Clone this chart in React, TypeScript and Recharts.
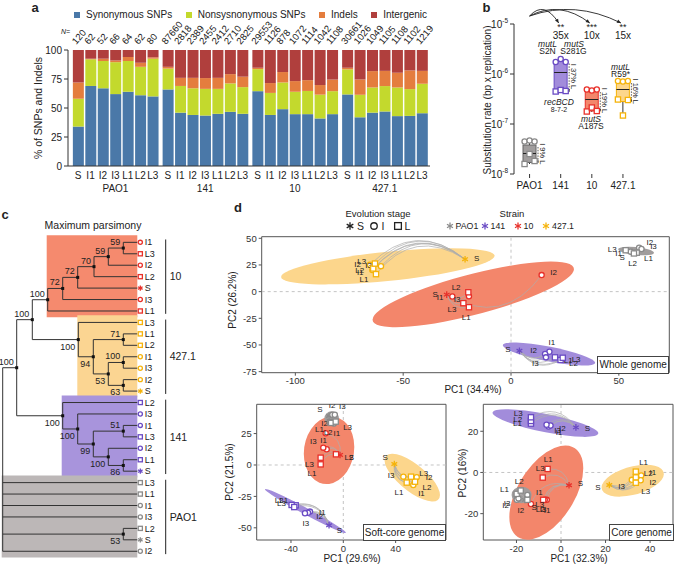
import React from 'react';
import {
  BarChart, Bar, XAxis, YAxis, LabelList, ComposedChart, Scatter, ReferenceLine, ReferenceArea,
} from 'recharts';

const FONT = '"Liberation Sans", Arial, Helvetica, sans-serif';
const INK = '#222';

// ---------- panel a: mutation classes ----------
const strains = ['PAO1', '141', '10', '427.1'];
const stages = ['S', 'I1', 'I2', 'I3', 'L1', 'L2', 'L3'];
const synonymous = [34, 69, 67, 62, 64, 61, 60, 66, 46, 44, 43.5, 45, 46.7, 45, 64.5, 44, 49, 44.7, 44.7, 41, 44.7, 61.7, 42, 46, 47, 43, 43.2, 45.5];
const nonsynonymous = [24, 23, 23.5, 27.5, 26.5, 24.5, 32.5, 18, 23, 23, 23, 21.5, 24.5, 23, 19, 19, 23, 19.3, 20, 20.5, 19.8, 21.6, 19.4, 21.7, 21.9, 24.7, 23.1, 25.4];
const indels = [14, 0.5, 2, 1.5, 3.5, 3.5, 1.2, 1.5, 7, 9, 9.3, 9.5, 8, 9, 1.2, 8.5, 9, 9.2, 9.3, 8.3, 10, 1.4, 13.2, 14.1, 13.1, 12.7, 16.1, 11.1];
const intergenic = [28, 7.5, 7.5, 9, 6, 11, 6.3, 14.5, 24, 24, 24.2, 24, 20.8, 23, 15.3, 28.5, 19, 26.8, 26, 30.2, 25.5, 15.3, 25.4, 18.2, 18, 19.6, 17.6, 18];
const mutationCounts = [120, 62, 52, 66, 64, 62, 80, 87660, 2818, 2389, 2455, 2412, 2710, 2825, 29553, 1126, 878, 1072, 1114, 1042, 1108, 30661, 1026, 1049, 1105, 1108, 1102, 1219];
const classNames = ['Synonymous SNPs', 'Nonsysnonymous SNPs', 'Indels', 'Intergenic'];
const classKeys = ['syn', 'non', 'ind', 'inter'];
const classColors = ['#4a78a8', '#c3d92d', '#e47d3e', '#b03f3d'];
const GROUP_GAP = 0.21;

const barRows = strains.flatMap((s, g) => stages.map((st, k) => {
  const i = g * 7 + k;
  return {
    pos: i + g * GROUP_GAP, strain: s, stage: st,
    syn: synonymous[i], non: nonsynonymous[i], ind: indels[i], inter: intergenic[i], n: mutationCounts[i],
  };
}));

// ---------- panel b: substitution rates (log10) ----------
const rateStrains = ['PAO1', '141', '10', '427.1'];
const rateMin = [-7.8, -6.36, -6.76, -6.83];
const rateQ1 = [-7.77, -6.35, -6.74, -6.55];
const rateMedian = [-7.59, -5.97, -6.51, -6.31];
const rateQ3 = [-7.42, -5.75, -6.32, -6.14];
const rateMax = [-7.33, -5.7, -6.31, -6.13];
const lossPct = [9, 37, 19, 16];
const foldChange = ['', '35x', '10x', '15x'];
const significance = ['', '**', '***', '**'];
const rateI = [[-7.35, -7.33, -7.35], [-5.76, -5.7, -5.76], [-6.31, -6.33, -6.31], [-6.14, -6.15, -6.14]];
const rateL = [[-7.8, -7.6, -7.74], [-6.35, -6.32, -6.34], [-6.75, -6.67, -6.74], [-6.51, -6.83, -6.52]];

const rateRows = rateStrains.map((s, k) => ({
  k, strain: s, box: [rateQ1[k], rateQ3[k]], lo: rateMin[k], med: rateMedian[k], hi: rateMax[k], pct: lossPct[k],
}));
const ratePoints = rateStrains.flatMap((s, k) => [
  ...rateI[k].map((v, j) => ({ k, strain: s, stage: 'I', rep: j + 1, rate: v })),
  ...rateL[k].map((v, j) => ({ k, strain: s, stage: 'L', rep: j + 1, rate: v })),
]);
const arcRows = rateStrains.map((s, k) => ({ k, strain: s, rate: -5, fold: foldChange[k], sig: significance[k] }));

// ---------- panel c: maximum parsimony tree ----------
const treeLeaves = [
  ['10', 'I1'], ['10', 'L3'], ['10', 'I2'], ['10', 'L2'], ['10', 'S'], ['10', 'I3'], ['10', 'L1'],
  ['427.1', 'L3'], ['427.1', 'L1'], ['427.1', 'L2'], ['427.1', 'I1'], ['427.1', 'I3'], ['427.1', 'I2'], ['427.1', 'S'],
  ['141', 'L2'], ['141', 'I3'], ['141', 'I1'], ['141', 'L3'], ['141', 'I2'], ['141', 'L1'], ['141', 'S'],
  ['PAO1', 'L3'], ['PAO1', 'L1'], ['PAO1', 'I1'], ['PAO1', 'I3'], ['PAO1', 'L2'], ['PAO1', 'S'], ['PAO1', 'I2'],
];
const treeNodes: any[] = [
  { id: 'root', x: 2.7, kids: ['nA', 21, 22, 23, 24, 'np', 27] },
  { id: 'nA', x: 16.7, boot: 100, kids: ['nB', 'n1a'] },
  { id: 'nB', x: 32.3, boot: 100, kids: ['n10f', 'n4a'] },
  { id: 'n10f', x: 47.7, boot: 100, kids: ['n10e', 6] },
  { id: 'n10e', x: 62.7, boot: 72, kids: ['n10d', 5] },
  { id: 'n10d', x: 77.7, boot: 72, kids: ['n10c', 4] },
  { id: 'n10c', x: 94, boot: 70, kids: ['n10b', 3] },
  { id: 'n10b', x: 108.3, boot: 59, kids: ['n10a', 2] },
  { id: 'n10a', x: 123.3, boot: 59, kids: [0, 1] },
  { id: 'n4a', x: 78.3, boot: 100, kids: [7, 'n4b'] },
  { id: 'n4b', x: 93.3, boot: 94, kids: ['n4c', 'n4d'] },
  { id: 'n4c', x: 123.3, boot: 71, kids: [8, 9] },
  { id: 'n4d', x: 108.3, boot: 53, kids: ['n4e', 'n4f'] },
  { id: 'n4e', x: 123.3, boot: 100, kids: [10, 11] },
  { id: 'n4f', x: 123.3, boot: 63, kids: [12, 13] },
  { id: 'n1a', x: 62.7, boot: 100, kids: [14, 'n1b'] },
  { id: 'n1b', x: 77.7, boot: 100, kids: [15, 'n1c'] },
  { id: 'n1c', x: 93.3, boot: 99, kids: ['n1d', 'n1e'] },
  { id: 'n1d', x: 123.3, boot: 51, kids: [16, 17] },
  { id: 'n1e', x: 108.3, boot: 100, kids: [18, 'n1f'] },
  { id: 'n1f', x: 123.3, boot: 86, kids: [19, 20] },
  { id: 'np', x: 123.3, boot: 53, kids: [25, 26] },
];
const clades = [
  { strain: '10', node: 'n10f', first: 0, last: 6 },
  { strain: '427.1', node: 'n4a', first: 7, last: 13 },
  { strain: '141', node: 'n1a', first: 14, last: 20 },
  { strain: 'PAO1', node: 'root', first: 21, last: 27 },
];
const LEAF_X = 137.3;
const CLADE_BAR_X = 165.7;

// ---------- panel d: PCA ----------
// [strain, sample, PC1, PC2]
const wholeGenome: [string, string, number, number][] = [
  ['427.1', 'S', -21.3, 30.4], ['427.1', 'I1', -64.3, 20.2], ['427.1', 'I2', -65.4, 25.1], ['427.1', 'I3', -60.3, 23.9],
  ['427.1', 'L1', -62.6, 16.4], ['427.1', 'L2', -63.9, 21.7], ['427.1', 'L3', -63.1, 26.3],
  ['10', 'S', -29.8, -2.8], ['10', 'I1', -27.2, -4.6], ['10', 'I2', 14.2, 15.5], ['10', 'I3', -19.5, -4.3],
  ['10', 'L1', -19.5, -14.6], ['10', 'L2', -19.8, -0.6], ['10', 'L3', -22.1, -10.8],
  ['141', 'S', 3.9, -55.5], ['141', 'I1', 17.8, -56.4], ['141', 'I2', 15.8, -58.5], ['141', 'I3', 16.2, -61.6],
  ['141', 'L1', 20.4, -61.6], ['141', 'L2', 23, -64.1], ['141', 'L3', 24, -62],
  ['PAO1', 'S', 56.3, 37], ['PAO1', 'I1', 55.5, 37.5], ['PAO1', 'I2', 59.4, 41.2], ['PAO1', 'I3', 60.5, 40],
  ['PAO1', 'L1', 58.3, 36.5], ['PAO1', 'L2', 57, 35.8], ['PAO1', 'L3', 53.2, 38.8],
];
const softCore: [string, string, number, number][] = [
  ['10', 'S', -2.5, 8], ['10', 'I1', -12.7, 12.5], ['10', 'I2', -13.5, 25.2], ['10', 'I3', -15.3, 13.8],
  ['10', 'L1', -17.3, 0.5], ['10', 'L2', -5.6, 8.5], ['10', 'L3', -17.3, 5.8],
  ['PAO1', 'S', -10.9, 39], ['PAO1', 'I1', -7.2, 33], ['PAO1', 'I2', -8.4, 40], ['PAO1', 'I3', -6.5, 40],
  ['PAO1', 'L1', -10.2, 34.2], ['PAO1', 'L2', -9.3, 33.5], ['PAO1', 'L3', -5.8, 34.5],
  ['427.1', 'S', 39, 0.8], ['427.1', 'I1', 53.5, -15.9], ['427.1', 'I2', 56.1, -9.8], ['427.1', 'I3', 45.9, -9.3],
  ['427.1', 'L1', 48.5, -14], ['427.1', 'L2', 54.8, -13.3], ['427.1', 'L3', 51.8, -9.3],
  ['141', 'S', -10.9, -48], ['141', 'I1', -25.5, -37.1], ['141', 'I2', -27, -38], ['141', 'I3', -29.3, -38.4],
  ['141', 'L1', -36.4, -32.1], ['141', 'L2', -39.5, -31.8], ['141', 'L3', -37.5, -33.5],
];
const coreGenome: [string, string, number, number][] = [
  ['141', 'S', 6.7, 21.9], ['141', 'I1', -5.6, 22.3], ['141', 'I2', -4.7, 22.8], ['141', 'I3', -6.5, 23.2],
  ['141', 'L1', -13.5, 23.7], ['141', 'L2', -13.5, 25], ['141', 'L3', -13.5, 26.8],
  ['10', 'S', 3.6, -6.2], ['10', 'I1', -6.4, -13.3], ['10', 'I2', -13.5, -15.3], ['10', 'I3', -7.3, -13.3],
  ['10', 'L1', -6, 1.7], ['10', 'L2', -8, -13.3], ['10', 'L3', -8.2, -2.5],
  ['PAO1', 'S', -16.2, -13.3], ['PAO1', 'I1', -15.1, -10.9], ['PAO1', 'I2', -19.9, -13.3], ['PAO1', 'I3', -19.1, -12.6],
  ['PAO1', 'L1', -19.9, -10.4], ['PAO1', 'L2', -18.1, -8.8], ['PAO1', 'L3', -15.1, -13.3],
  ['427.1', 'S', 21.7, -6.1], ['427.1', 'I1', 36, -1.5], ['427.1', 'I2', 35.8, -3.8], ['427.1', 'I3', 31.8, -3.6],
  ['427.1', 'L1', 33.6, 0.4], ['427.1', 'L2', 33.6, -2.4], ['427.1', 'L3', 33.6, -5],
];
// confidence ellipses: [strain, centre PC1, centre PC2, semi-diameter u (dx, dy), conjugate semi-diameter v (dx, dy)]
const wholeEllipses: [string, number, number, number, number, number, number][] = [
  ['427.1', -57.1, 23.7, 49.5, 9.9, 0, 13.7],
  ['10', -17.5, -2.6, 46.7, 23.7, 0, 19.6],
  ['141', 17.6, -58.5, 21.4, -8.2, 0, 7],
  ['PAO1', 58, 38.1, 8.3, -1.6, 0, 3.7],
];
const softEllipses: [string, number, number, number, number, number, number][] = [
  ['427.1', 52.7, -10, 21.2, -13.9, 0, 13],
  ['10', -10.9, 11.7, 19.3, 2.7, 0, 26.75],
  ['141', -29, -36.6, 30.9, -17.3, 0, 3],
  ['PAO1', -8.9, 37.1, 5.6, 0, 0, 5.6],
];
const coreEllipses: [string, number, number, number, number, number, number][] = [
  ['427.1', 32.2, -4, 14, 3.3, 0, 7],
  ['10', -6.6, -9.8, 16.6, 11.8, 0, 19.6],
  ['141', -7, 24, 23.75, -5, 0, 4.5],
  ['PAO1', -17.7, -10.9, 4.5, 0, 0, 4],
];

const strainColor: Record<string, string> = { PAO1: '#8a8a8a', '141': '#6a4bc4', '10': '#e8302a', '427.1': '#f5b30a' };
const strainFill: Record<string, string> = { PAO1: '#a09d9d', '141': '#a28cdb', '10': '#f3866b', '427.1': '#fcd68c' };
const treeFill: Record<string, string> = { PAO1: '#bcb7b7', '141': '#a894dc', '10': '#f58a6e', '427.1': '#fbd592' };
const boxStroke: Record<string, string> = { PAO1: '#666', '141': '#6a4bc4', '10': '#e8302a', '427.1': '#f5b30a' };

// ---------- helpers ----------
function Txt({ x, y, children, size = 10, anchor = 'middle', rot = 0, bold = false, italic = false }: any) {
  const tx = anchor === 'middle' ? '-50%' : anchor === 'end' ? '-100%' : '0';
  return (
    <div style={{
      position: 'absolute', left: x, top: y, fontSize: size, fontWeight: bold ? 700 : 400,
      fontStyle: italic ? 'italic' : 'normal', whiteSpace: 'nowrap', lineHeight: 1,
      transform: `translate(${tx},-50%) rotate(${rot}deg)`,
    }}>{children}</div>
  );
}

function Marker({ x, y, stage, color, s = 1 }: any) {
  const k = stage[0];
  if (k === 'S') {
    const r = 3.3 * s;
    return (
      <g stroke={color} strokeWidth={1.3}>
        <line x1={x} y1={y - r} x2={x} y2={y + r} />
        <line x1={x - r * 0.87} y1={y - r / 2} x2={x + r * 0.87} y2={y + r / 2} />
        <line x1={x - r * 0.87} y1={y + r / 2} x2={x + r * 0.87} y2={y - r / 2} />
      </g>
    );
  }
  if (k === 'I') return <circle cx={x} cy={y} r={2.6 * s} fill="#fff" stroke={color} strokeWidth={1.3} />;
  const h = 2.6 * s;
  return <rect x={x - h} y={y - h} width={2 * h} height={2 * h} fill="#fff" stroke={color} strokeWidth={1.3} />;
}

function Icon({ x, y, stage, color, s = 1 }: any) {
  return (
    <svg style={{ position: 'absolute', left: x - 8, top: y - 8, overflow: 'visible' }} width={16} height={16}>
      <Marker x={8} y={8} stage={stage} color={color} s={s} />
    </svg>
  );
}

// ---------- panel a ----------
const BarTick = (p: any) => {
  const row = barRows.find((r) => Math.abs(r.pos - p.payload.value) < 1e-6);
  if (!row) return <g />;
  return (
    <g fontSize={10} fill={INK}>
      <text x={p.x} y={p.y + 5} textAnchor="middle">{row.stage}</text>
      {row.stage === 'I3' && <text x={p.x} y={p.y + 18} textAnchor="middle">{row.strain}</text>}
    </g>
  );
};

const NLabel = (p: any) => {
  const vb = p.viewBox || {};
  const bx = vb.x ?? p.x;
  const bw = vb.width ?? p.width;
  const by = vb.y ?? p.y;
  return (
    <text transform={`translate(${bx + bw / 2 - 2},${by - 5}) rotate(-50)`} fontSize={9.5} fill={INK}>{p.value}</text>
  );
};

function PanelA() {
  return (
    <>
      <Txt x={35} y={7} size={13} bold>a</Txt>
      <div style={{ position: 'absolute', left: 74, top: 9, display: 'flex', fontSize: 10, lineHeight: '12px' }}>
        {classNames.map((n, i) => (
          <div key={n} style={{ display: 'flex', alignItems: 'center', marginRight: 13.5 }}>
            <span style={{ width: 6, height: 6, background: classColors[i], marginRight: 6, display: 'inline-block' }} />
            {n}
          </div>
        ))}
      </div>
      <Txt x={65.5} y={31} size={7} italic>N=</Txt>
      <Txt x={38} y={108} size={10.5} rot={-90}>% of SNPs and Indels</Txt>
      <div style={{ position: 'absolute', left: 0, top: 0 }}>
        <BarChart width={440} height={200} data={barRows} margin={{ top: 50, right: 10, left: 28, bottom: 0 }}>
          <XAxis type="number" dataKey="pos" domain={[-0.81, 28.27]} ticks={barRows.map((r) => r.pos)} interval={0}
            tick={BarTick} tickLine={false} height={34} stroke="#333" />
          <YAxis type="number" domain={[0, 100]} ticks={[0, 25, 50, 75, 100]} width={40} tickSize={4}
            tick={{ fontSize: 10, fill: INK }} stroke="#333" />
          {classKeys.map((k, i) => (
            <Bar key={k} dataKey={k} stackId="a" fill={classColors[i]} barSize={11} isAnimationActive={false}>
              {i === 3 && <LabelList dataKey="n" content={NLabel} />}
            </Bar>
          ))}
        </BarChart>
      </div>
    </>
  );
}

// ---------- panel b ----------
const RateTick = (p: any) => (
  <text x={p.x} y={p.y + 3.5} textAnchor="end" fontSize={10} fill={INK}>
    10<tspan dy={-4.5} fontSize={6.5}>{p.payload.value}</tspan>
  </text>
);

const BoxShape = (p: any) => {
  const d = p.payload;
  const [q1, q3] = d.box;
  const top = Math.min(p.y, p.y + p.height);
  const h = Math.abs(p.height);
  const ppu = h / (q3 - q1);
  const bot = top + h;
  const yHi = top - (d.hi - q3) * ppu;
  const yLo = bot + (q1 - d.lo) * ppu;
  const yMed = top + (q3 - d.med) * ppu;
  const cx = p.x + p.width / 2;
  const ax = p.x + p.width + 2;
  return (
    <g>
      <line x1={cx} y1={yHi} x2={cx} y2={top} stroke="#333" />
      <line x1={cx} y1={bot} x2={cx} y2={yLo} stroke="#333" />
      <rect x={p.x} y={top} width={p.width} height={h} fill={strainFill[d.strain]} stroke={boxStroke[d.strain]} strokeWidth={1} />
      <line x1={p.x} y1={yMed} x2={p.x + p.width} y2={yMed} stroke="#222" strokeWidth={1} />
      <line x1={ax} y1={top + 2} x2={ax} y2={bot - 1} stroke="#333" strokeWidth={0.8} strokeDasharray="1.5 1.3" />
      <path d={`M${ax - 2.5},${bot - 1} l3,-1.6 l0,3.2 z`} fill="#333" />
      <text transform={`translate(${p.x + p.width + 6.5},${(top + bot) / 2}) rotate(90)`} textAnchor="middle" dy="0.35em" fontSize={7.5} fill={INK}>
        {`I ${d.pct}% L`}
      </text>
    </g>
  );
};

const RatePoint = (p: any) => {
  const d = p.payload;
  return <Marker x={p.cx + (d.rep - 2) * 5} y={p.cy} stage={d.stage} color={strainColor[d.strain]} />;
};

const arcStore: any = {};
const ArcShape = (p: any) => {
  const d = p.payload;
  if (!d.fold) { arcStore.src = { x: p.cx, y: p.cy }; return <g />; }
  const s = arcStore.src || { x: p.cx, y: p.cy };
  const sx = s.x, sy = s.y - 8;
  const ex = p.cx - 2, ey = p.cy - 1;
  const qx = (sx + ex) / 2, qy = sy - 16;
  const dx = ex - qx, dy = ey - qy;
  const L = Math.hypot(dx, dy) || 1;
  const ux = dx / L, uy = dy / L;
  const bx = ex - ux * 4, by = ey - uy * 4;
  return (
    <g>
      <path d={`M${sx},${sy}Q${qx},${qy} ${ex},${ey}`} fill="none" stroke="#222" strokeWidth={0.9} />
      <path d={`M${ex},${ey}L${bx - uy * 1.8},${by + ux * 1.8}L${bx + uy * 1.8},${by - ux * 1.8}Z`} fill="#222" />
      <text x={p.cx} y={p.cy + 6} textAnchor="middle" fontSize={9} fill={INK}>{d.sig}</text>
      <text x={p.cx} y={p.cy + 15} textAnchor="middle" fontSize={10} fill={INK}>{d.fold}</text>
    </g>
  );
};

function PanelB() {
  return (
    <>
      <Txt x={486.5} y={7} size={13} bold>b</Txt>
      <Txt x={488} y={100} size={10} rot={-90}>Substitution rate (bp x replication)</Txt>
      <Txt x={547.5} y={44} size={8.5} italic>mutL</Txt>
      <Txt x={547.5} y={51} size={8.5}>S2N</Txt>
      <Txt x={574} y={44} size={8.5} italic>mutS</Txt>
      <Txt x={573.5} y={51} size={8.5}>S281G</Txt>
      <Txt x={559} y={101.5} size={8.5} italic>recBCD</Txt>
      <Txt x={559} y={108.5} size={7}>8-7-2</Txt>
      <Txt x={591} y={119} size={8.5} italic>mutS</Txt>
      <Txt x={591} y={126} size={8.5}>A187S</Txt>
      <Txt x={620.5} y={67} size={8.5} italic>mutL</Txt>
      <Txt x={620.5} y={74} size={8.5}>R59*</Txt>
      <div style={{ position: 'absolute', left: 480, top: 0 }}>
        <ComposedChart width={194} height={200} data={rateRows} margin={{ top: 24, right: 35.5, left: 4, bottom: 0 }}>
          <XAxis type="number" dataKey="k" domain={[-0.5, 3.5]} ticks={[0, 1, 2, 3]} interval={0}
            tickFormatter={(v: number) => rateStrains[v]} axisLine={false} tickSize={4} tickMargin={4} height={26}
            tick={{ fontSize: 10, fill: INK }} stroke="#333" />
          <YAxis type="number" domain={[-8, -5]} ticks={[-8, -7, -6, -5]} interval={0} width={30} tickSize={4}
            tick={RateTick} stroke="#333" />
          <Bar dataKey="box" shape={BoxShape} barSize={13} isAnimationActive={false} />
          <Scatter data={ratePoints} dataKey="rate" shape={RatePoint} isAnimationActive={false} />
          <Scatter data={arcRows} dataKey="rate" shape={ArcShape} isAnimationActive={false} />
        </ComposedChart>
      </div>
    </>
  );
}

// ---------- panel c ----------
const nodeMap: Record<string, any> = Object.fromEntries(treeNodes.map((n) => [n.id, n]));
const parentOf: Record<string, any> = {};
treeNodes.forEach((n) => n.kids.forEach((k: any, j: number) => {
  if (typeof k === 'string') parentOf[k] = { node: n, first: j === 0 };
}));
const yOf = (k: any): number => {
  if (typeof k === 'number') return k;
  const n = nodeMap[k];
  return (yOf(n.kids[0]) + yOf(n.kids[n.kids.length - 1])) / 2;
};
const xOf = (k: any): number => (typeof k === 'number' ? LEAF_X : nodeMap[k].x);
const treeV = treeNodes.map((n) => ({ x: n.x, y1: yOf(n.kids[0]), y2: yOf(n.kids[n.kids.length - 1]) }));
const treeH = treeNodes.flatMap((n) => n.kids.map((k: any) => ({ x1: n.x, x2: xOf(k), y: yOf(k) })));
const innerRows = treeNodes.filter((n) => n.id !== 'root').map((n) => ({
  x: n.x, y: yOf(n.id), boot: n.boot, first: parentOf[n.id] ? parentOf[n.id].first : true,
}));
const leafRows = treeLeaves.map(([strain, stage], i) => ({ x: LEAF_X, y: i, strain, stage }));

const NodeShape = (p: any) => {
  const d = p.payload;
  return (
    <g>
      <rect x={p.cx - 1.5} y={p.cy - 1.5} width={3} height={3} fill="#111" />
      <text x={p.cx - 3} y={d.first ? p.cy - 3 : p.cy + 10} textAnchor="end" fontSize={9} fill={INK}>{d.boot}</text>
    </g>
  );
};
const LeafShape = (p: any) => {
  const d = p.payload;
  return (
    <g>
      <Marker x={p.cx + 3} y={p.cy} stage={d.stage} color={strainColor[d.strain]} s={0.8} />
      <text x={p.cx + 7.5} y={p.cy} dy="0.35em" fontSize={9} fill={INK}>{d.stage}</text>
    </g>
  );
};

function PanelC() {
  return (
    <>
      <Txt x={5} y={214} size={13} bold>c</Txt>
      <Txt x={93} y={224.5} size={10.5}>Maximum parsimony</Txt>
      <div style={{ position: 'absolute', left: 0, top: 200 }}>
        <ComposedChart width={200} height={365} margin={{ top: 0, right: 0, bottom: 0, left: 0 }}>
          <XAxis type="number" dataKey="x" domain={[0, 200]} hide />
          <YAxis type="number" dataKey="y" domain={[-3.7, 28.2]} reversed hide />
          {clades.map((c) => (
            <ReferenceArea key={'a' + c.strain} x1={nodeMap[c.node].x - 1} x2={LEAF_X} y1={c.first - 0.62} y2={c.last + 0.55}
              fill={treeFill[c.strain]} fillOpacity={1} stroke="none" />
          ))}
          {treeV.map((s, i) => (
            <ReferenceLine key={'v' + i} segment={[{ x: s.x, y: s.y1 }, { x: s.x, y: s.y2 }]} stroke="#333" strokeWidth={1} />
          ))}
          {treeH.map((s, i) => (
            <ReferenceLine key={'h' + i} segment={[{ x: s.x1, y: s.y }, { x: s.x2, y: s.y }]} stroke="#333" strokeWidth={1} />
          ))}
          {clades.map((c) => (
            <ReferenceLine key={'b' + c.strain} segment={[{ x: CLADE_BAR_X, y: c.first - 0.25 }, { x: CLADE_BAR_X, y: c.last + 0.25 }]}
              stroke={INK} strokeWidth={1} label={{ value: c.strain, position: 'right', offset: 4, fontSize: 10.5, fill: INK }} />
          ))}
          <Scatter data={innerRows} shape={NodeShape} isAnimationActive={false} />
          <Scatter data={leafRows} shape={LeafShape} isAnimationActive={false} />
        </ComposedChart>
      </div>
    </>
  );
}

// ---------- panel d ----------
function PcaPlot({ left, top, width, height, margin, yWidth, xDomain, yDomain, xTicks, yTicks, points, ellipses }: any) {
  const px: Record<string, { x: number; y: number }> = {};
  const ellData = ellipses.flatMap(([s, cx, cy, ux, uy, vx, vy]: any) => [
    { strain: s, role: 'u', x: cx + ux, y: cy + uy },
    { strain: s, role: 'v', x: cx + vx, y: cy + vy },
    { strain: s, role: 'c', x: cx, y: cy },
  ]);
  const ptData = points.map(([strain, sample, x, y]: any) => ({ strain, sample, x, y }));
  const curveData = [...ptData].sort((a: any, b: any) => (a.sample === 'S' ? 0 : 1) - (b.sample === 'S' ? 0 : 1));

  const ellShape = (p: any) => {
    const d = p.payload;
    px['e' + d.strain + d.role] = { x: p.cx, y: p.cy };
    if (d.role !== 'c') return <g />;
    const u = px['e' + d.strain + 'u'];
    const v = px['e' + d.strain + 'v'];
    if (!u || !v) return <g />;
    return (
      <ellipse cx={0} cy={0} rx={1} ry={1} fill={strainFill[d.strain]} stroke="none"
        transform={`matrix(${u.x - p.cx} ${u.y - p.cy} ${v.x - p.cx} ${v.y - p.cy} ${p.cx} ${p.cy})`} />
    );
  };
  const curveShape = (p: any) => {
    const d = p.payload;
    px['p' + d.strain + d.sample] = { x: p.cx, y: p.cy };
    if (d.sample === 'S') return <g />;
    const s = px['p' + d.strain + 'S'];
    if (!s) return <g />;
    const dx = p.cx - s.x, dy = p.cy - s.y;
    const mx = (s.x + p.cx) / 2 - dy * 0.45, my = (s.y + p.cy) / 2 + dx * 0.45;
    return <path d={`M${s.x},${s.y}Q${mx},${my} ${p.cx},${p.cy}`} fill="none" stroke="#adadad" strokeWidth={0.7} />;
  };
  const markShape = (p: any) => {
    const d = p.payload;
    const mates = ptData.filter((q: any) => q.strain === d.strain).map((q: any) => px['p' + q.strain + q.sample]).filter(Boolean);
    let gx = p.cx, gy = p.cy;
    if (mates.length) {
      gx = mates.reduce((a: number, m: any) => a + m.x, 0) / mates.length;
      gy = mates.reduce((a: number, m: any) => a + m.y, 0) / mates.length;
    }
    let nx = p.cx - gx, ny = p.cy - gy;
    const len = Math.hypot(nx, ny);
    if (len < 1.2) { nx = 1; ny = 0; } else { nx /= len; ny /= len; }
    const anchor = nx > 0.35 ? 'start' : nx < -0.35 ? 'end' : 'middle';
    return (
      <g>
        <Marker x={p.cx} y={p.cy} stage={d.sample} color={strainColor[d.strain]} />
        <text x={p.cx + nx * 9} y={p.cy + ny * 10} dy="0.35em" textAnchor={anchor} fontSize={8} fill={INK}>{d.sample}</text>
      </g>
    );
  };

  return (
    <div style={{ position: 'absolute', left, top }}>
      <ComposedChart width={width} height={height} margin={margin}>
        <XAxis type="number" dataKey="x" domain={xDomain} ticks={xTicks} interval={0} allowDataOverflow height={14}
          tickSize={3} tickMargin={2} axisLine={false} stroke="#555" tick={{ fontSize: 9.5, fill: '#333' }} />
        <YAxis type="number" dataKey="y" domain={yDomain} ticks={yTicks} interval={0} allowDataOverflow width={yWidth}
          tickSize={3} tickMargin={2} axisLine={false} stroke="#555" tick={{ fontSize: 9.5, fill: '#333' }} />
        <Scatter data={ellData} shape={ellShape} isAnimationActive={false} />
        <ReferenceLine x={0} stroke="#c4c4c4" strokeDasharray="3 3" />
        <ReferenceLine y={0} stroke="#c4c4c4" strokeDasharray="3 3" />
        <Scatter data={curveData} shape={curveShape} isAnimationActive={false} />
        <Scatter data={ptData} shape={markShape} isAnimationActive={false} />
        <ReferenceArea x1={xDomain[0]} x2={xDomain[1]} y1={yDomain[0]} y2={yDomain[1]} fill="none" stroke="#555" strokeWidth={1} ifOverflow="visible" />
      </ComposedChart>
    </div>
  );
}

function TitleBox({ x, y, w, h, children }: any) {
  return (
    <div style={{
      position: 'absolute', left: x, top: y, width: w, height: h, border: '1px solid #444', background: '#fff',
      boxSizing: 'border-box', fontSize: 10, display: 'flex', alignItems: 'center', justifyContent: 'center', whiteSpace: 'nowrap',
    }}>{children}</div>
  );
}

function PanelD() {
  const legendStrains = ['PAO1', '141', '10', '427.1'];
  const strainX = [449.5, 484.5, 517.5, 546];
  return (
    <>
      <PcaPlot left={220} top={205} width={454} height={195} margin={{ top: 31.7, right: 4.7, left: 11.7, bottom: 13.3 }}
        yWidth={30} xDomain={[-115.6, 73.4]} yDomain={[-76, 51.5]} xTicks={[-100, -50, 0, 50]} yTicks={[-75, -50, -25, 0, 25, 50]}
        points={wholeGenome} ellipses={wholeEllipses} />
      <PcaPlot left={220} top={400} width={232} height={165} margin={{ top: 4.3, right: 6, left: 11.7, bottom: 11 }}
        yWidth={25} xDomain={[-66.2, 78.5]} yDomain={[-59.7, 48.3]} xTicks={[-40, 0, 40]} yTicks={[-50, -25, 0, 25]}
        points={softCore} ellipses={softEllipses} />
      <PcaPlot left={455} top={400} width={219} height={165} margin={{ top: 4.3, right: 1, left: 4.3, bottom: 11 }}
        yWidth={24} xDomain={[-34.9, 50.3]} yDomain={[-32.8, 33.1]} xTicks={[-20, 0, 20, 40]} yTicks={[-20, 0, 20]}
        points={coreGenome} ellipses={coreEllipses} />

      <Txt x={238} y={207} size={13} bold>d</Txt>
      <Txt x={378} y={214} size={9.5}>Evolution stage</Txt>
      <Txt x={512} y={214} size={9.5}>Strain</Txt>
      <Icon x={349.5} y={226} stage="S" color="#222" s={1.15} />
      <Txt x={360.5} y={226} size={10.5}>S</Txt>
      <Icon x={373.5} y={226} stage="I" color="#222" s={1.25} />
      <Txt x={383} y={226} size={10.5}>I</Txt>
      <Icon x={398} y={226} stage="L" color="#222" s={1.3} />
      <Txt x={407.5} y={226} size={10.5}>L</Txt>
      {legendStrains.map((s, i) => (
        <React.Fragment key={s}>
          <Icon x={strainX[i]} y={226} stage="S" color={strainColor[s]} s={1.05} />
          <Txt x={strainX[i] + 6} y={226} size={8.8} anchor="start">{s}</Txt>
        </React.Fragment>
      ))}

      <Txt x={473} y={390} size={10}>PC1 (34.4%)</Txt>
      <Txt x={233} y={300} size={10} rot={-90}>PC2 (26.2%)</Txt>
      <Txt x={352} y={559} size={10}>PC1 (29.6%)</Txt>
      <Txt x={230} y={472} size={10} rot={-90}>PC2 (21.5%)</Txt>
      <Txt x={579} y={559} size={10}>PC1 (32.3%)</Txt>
      <Txt x={463} y={473} size={10} rot={-90}>PC2 (16%)</Txt>

      <TitleBox x={597} y={356} w={72.3} h={17.7}>Whole genome</TitleBox>
      <TitleBox x={363} y={524} w={83} h={17}>Soft-core genome</TitleBox>
      <TitleBox x={609} y={524} w={65} h={17}>Core genome</TitleBox>
    </>
  );
}

export default function App() {
  return (
    <div style={{
      position: 'absolute', left: 0, top: 0, width: 674, height: 565, background: '#fff',
      fontFamily: FONT, color: INK, overflow: 'hidden',
    }}>
      <PanelA />
      <PanelB />
      <PanelC />
      <PanelD />
    </div>
  );
}
